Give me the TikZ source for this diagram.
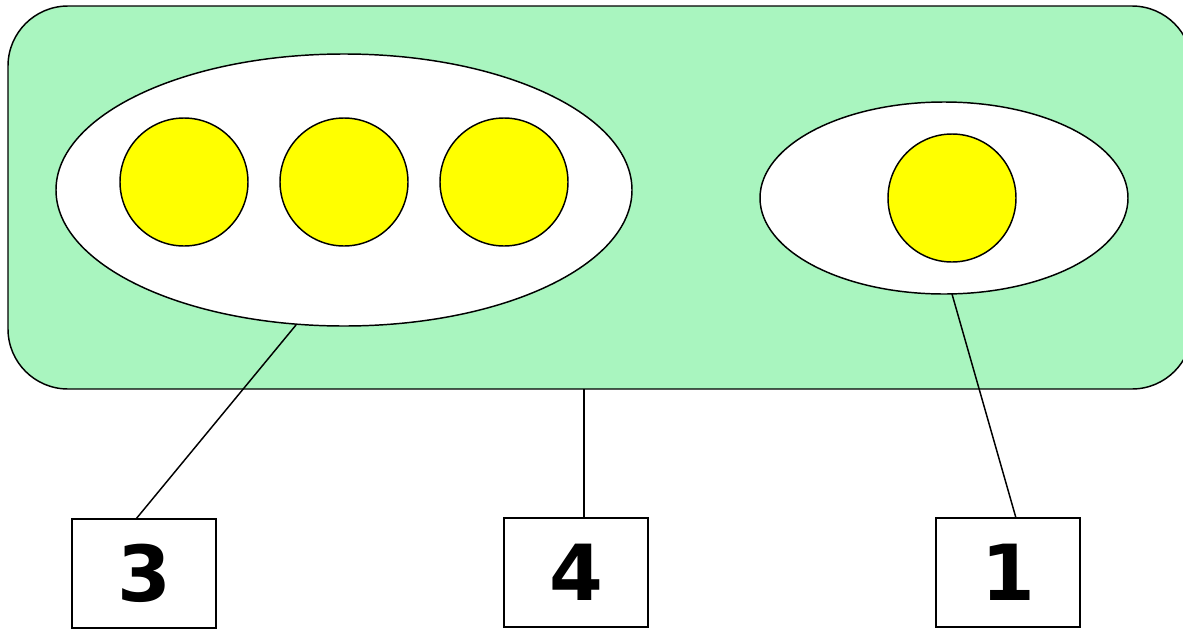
\documentclass[tikz,border=0pt]{standalone}
\usepackage{fontspec}
\setmainfont{DejaVu Sans}
\usetikzlibrary{shapes.geometric}
\definecolor{panelgreen}{RGB}{169,245,191}
\definecolor{dotyellow}{RGB}{255,255,0}
\tikzset{
  px/.style={x=0.75pt,y=-0.75pt},
  lw/.style={line width=1.1pt},
  blob/.style={ellipse,draw,lw,fill=white,inner sep=0pt},
  dot/.style={circle,draw,lw,fill=dotyellow,inner sep=0pt,minimum size=128*0.75pt},
  numbox/.style={rectangle,draw,lw,fill=white,inner sep=0pt,minimum width=144*0.75pt,minimum height=109*0.75pt,font=\fontsize{58}{60}\selectfont\bfseries},
  link/.style={draw,lw}
}
\begin{document}
\begin{tikzpicture}[px]
\useasboundingbox (0,0) rectangle (1183,629);
\begin{scope}
\clip (0,0) rectangle (1183,629);
\node[draw,lw,fill=panelgreen,rounded corners=60*0.75pt,rectangle,inner sep=0pt,minimum width=1184*0.75pt,minimum height=383*0.75pt] (panel) at (600,197.5) {};
\end{scope}
\node[blob,minimum width=576*0.75pt,minimum height=272*0.75pt] (left) at (344,190) {};
\node[blob,minimum width=368*0.75pt,minimum height=192*0.75pt] (right) at (944,198) {};
\node[dot] (d1) at (184,182) {};
\node[dot] (d2) at (344,182) {};
\node[dot] (d3) at (504,182) {};
\node[dot] (d4) at (952,198) {};
\node[numbox] (b3) at (144,573.5) {3};
\node[numbox] (b4) at (576,572.5) {4};
\node[numbox] (b1) at (1008,572.5) {1};
\coordinate (l3) at (296,325);
\coordinate (t3) at (136,519);
\coordinate (l4) at (584,389);
\coordinate (t4) at (584,518);
\coordinate (l1) at (952,294);
\coordinate (t1) at (1016,518);
\path[link] (l3) -- (t3);
\path[link] (l4) -- (t4);
\path[link] (l1) -- (t1);
\end{tikzpicture}
\end{document}
